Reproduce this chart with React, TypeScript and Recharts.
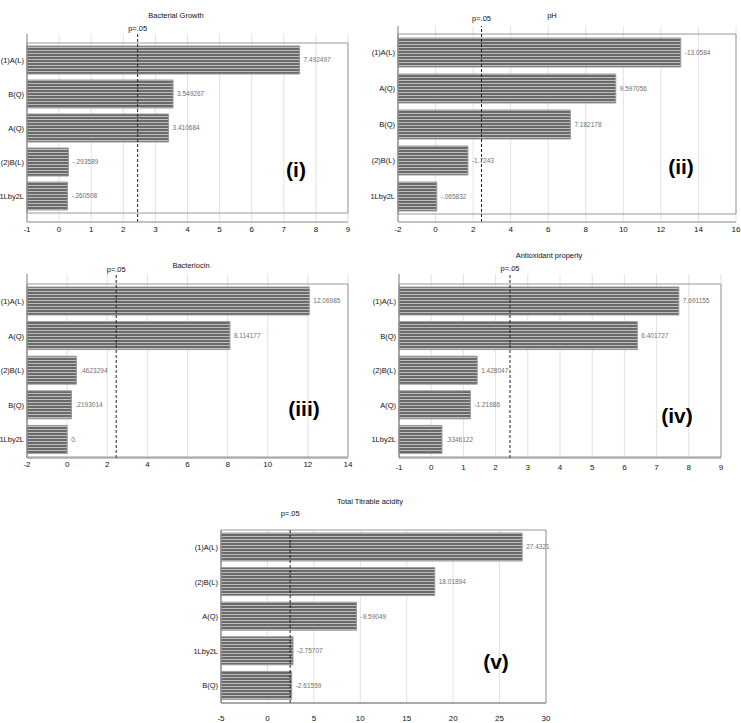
import React from 'react';
import {
  BarChart,
  Bar,
  XAxis,
  YAxis,
  CartesianGrid,
  ReferenceLine,
  ReferenceArea,
  LabelList,
} from 'recharts';

// ---------- data ----------
const growthTerms = ['(1)A(L)', 'B(Q)', 'A(Q)', '(2)B(L)', '1Lby2L'];
const growthEffects = [7.492497, 3.549267, 3.410684, -0.293589, -0.260508];
const growthTicks = [-1, 0, 1, 2, 3, 4, 5, 6, 7, 8, 9];

const phTerms = ['(1)A(L)', 'A(Q)', 'B(Q)', '(2)B(L)', '1Lby2L'];
const phEffects = [-13.0584, 9.597056, 7.182178, -1.7243, -0.065832];
const phTicks = [-2, 0, 2, 4, 6, 8, 10, 12, 14, 16];

const bacteriocinTerms = ['(1)A(L)', 'A(Q)', '(2)B(L)', 'B(Q)', '1Lby2L'];
const bacteriocinEffects = [12.06985, 8.114177, 0.4623294, 0.2193014, 0];
const bacteriocinTicks = [-2, 0, 2, 4, 6, 8, 10, 12, 14];

const antioxidantTerms = ['(1)A(L)', 'B(Q)', '(2)B(L)', 'A(Q)', '1Lby2L'];
const antioxidantEffects = [7.691155, 6.401727, 1.428047, -1.21686, 0.3346122];
const antioxidantTicks = [-1, 0, 1, 2, 3, 4, 5, 6, 7, 8, 9];

const ttaTerms = ['(1)A(L)', '(2)B(L)', 'A(Q)', '1Lby2L', 'B(Q)'];
const ttaEffects = [27.4321, 18.01894, -9.59049, -2.75707, -2.61559];
const ttaTicks = [-5, 0, 5, 10, 15, 20, 25, 30];

const P_CRIT = 2.447;
const P_LABEL = 'p=.05';

const FONT = '"Liberation Sans", Arial, Helvetica, sans-serif';

const fmt = (v: number) =>
  v === 0 ? '0.' : String(v).replace(/^(-?)0\./, '$1.');

type Panel = {
  id: string;
  title: string;
  roman: string;
  terms: string[];
  effects: number[];
  ticks: number[];
  left: number;
  top: number;
  width: number;
  height: number;
  margin: { top: number; right: number; bottom: number; left: number };
  yWidth: number;
  pad: { top: number; bottom: number };
  barSize: number;
  pOffset: number;
  tickGap: number;
  titleX: number;
  titleY: number;
  romanX: number;
  romanY: number;
};

const panels: Panel[] = [
  {
    id: 'g', title: 'Bacterial Growth', roman: '(i)',
    terms: growthTerms, effects: growthEffects, ticks: growthTicks,
    left: 0, top: 0, width: 360, height: 245,
    margin: { top: 34, right: 12, bottom: 5, left: 0 }, yWidth: 27,
    pad: { top: 9, bottom: 9 }, barSize: 28, pOffset: 3, tickGap: 4,
    titleX: 176, titleY: 15, romanX: 296, romanY: 170,
  },
  {
    id: 'p', title: 'pH', roman: '(ii)',
    terms: phTerms, effects: phEffects, ticks: phTicks,
    left: 370, top: 0, width: 371, height: 245,
    margin: { top: 26, right: 5, bottom: 5, left: 0 }, yWidth: 28,
    pad: { top: 8, bottom: 8 }, barSize: 29, pOffset: 5, tickGap: 4,
    titleX: 552, titleY: 15, romanX: 681, romanY: 167,
  },
  {
    id: 'b', title: 'Bacteriocin', roman: '(iii)',
    terms: bacteriocinTerms, effects: bacteriocinEffects, ticks: bacteriocinTicks,
    left: 0, top: 250, width: 360, height: 230,
    margin: { top: 24, right: 12, bottom: 4, left: 0 }, yWidth: 27,
    pad: { top: 10, bottom: 1 }, barSize: 28, pOffset: 2, tickGap: 3,
    titleX: 191, titleY: 265, romanX: 304, romanY: 409,
  },
  {
    id: 'a', title: 'Antioxidant property', roman: '(iv)',
    terms: antioxidantTerms, effects: antioxidantEffects, ticks: antioxidantTicks,
    left: 370, top: 250, width: 365, height: 230,
    margin: { top: 24, right: 14, bottom: 4, left: 0 }, yWidth: 29,
    pad: { top: 10, bottom: 1 }, barSize: 28, pOffset: 3, tickGap: 6,
    titleX: 549, titleY: 255, romanX: 677, romanY: 416,
  },
  {
    id: 't', title: 'Total Titrable acidity', roman: '(v)',
    terms: ttaTerms, effects: ttaEffects, ticks: ttaTicks,
    left: 180, top: 480, width: 380, height: 243,
    margin: { top: 50, right: 14, bottom: 2, left: 0 }, yWidth: 41,
    pad: { top: 0, bottom: 0 }, barSize: 28, pOffset: 14, tickGap: 12,
    titleX: 370, titleY: 501, romanX: 496, romanY: 662,
  },
];

function ParetoPanel({ p }: { p: Panel }) {
  const min = p.ticks[0];
  const max = p.ticks[p.ticks.length - 1];
  const data = p.terms.map((term, i) => ({
    term,
    range: [min, Math.abs(p.effects[i])],
    label: fmt(p.effects[i]),
  }));
  const minor: number[] = [];
  for (let i = 0; i < p.ticks.length - 1; i++) {
    minor.push(p.ticks[i], (p.ticks[i] + p.ticks[i + 1]) / 2);
  }
  minor.push(max);
  const patId = `stripes-${p.id}`;
  return (
    <div style={{ position: 'absolute', left: p.left, top: p.top, width: p.width, height: p.height }}>
      <BarChart
        width={p.width}
        height={p.height}
        data={data}
        layout="vertical"
        margin={p.margin}
        style={{ fontFamily: FONT }}
      >
        <defs>
          <pattern id={patId} patternUnits="userSpaceOnUse" width={4} height={3}>
            <rect x={0} y={0} width={4} height={3} fill="#bdbdbd" />
            <rect x={0} y={0} width={4} height={2} fill="#6a6a6a" />
          </pattern>
        </defs>
        <CartesianGrid horizontal={false} stroke="#e2e2e2" />
        <XAxis
          type="number"
          domain={[min, max]}
          ticks={p.ticks}
          interval={0}
          tickLine={false}
          tickSize={1}
          tickMargin={p.tickGap - 1}
          axisLine={{ stroke: '#888' }}
          tick={{ fontSize: 8, fill: '#111', fontFamily: FONT }}
          height={18}
        />
        <XAxis
          xAxisId="minor"
          type="number"
          orientation="top"
          domain={[min, max]}
          ticks={minor}
          interval={0}
          mirror
          tick={false}
          tickSize={3}
          tickLine={{ stroke: '#999' }}
          axisLine={false}
          height={0}
        />
        <YAxis
          type="category"
          dataKey="term"
          width={p.yWidth}
          tickLine={false}
          tickSize={2}
          tickMargin={1}
          axisLine={{ stroke: '#888' }}
          padding={p.pad}
          tick={{ fontSize: 7.5, fill: '#111', fontFamily: FONT }}
        />
        <ReferenceArea x1={min} x2={max} fill="none" stroke="#999" ifOverflow="visible" />
        <Bar
          dataKey="range"
          barSize={p.barSize}
          fill={`url(#${patId})`}
          stroke="#9a9a9a"
          strokeWidth={1}
          isAnimationActive={false}
        >
          <LabelList
            dataKey="label"
            position="right"
            offset={4}
            style={{ fontSize: 6.5, fill: '#707070', fontFamily: FONT }}
          />
        </Bar>
        <ReferenceLine
          x={P_CRIT}
          stroke="#222"
          strokeDasharray="3 2"
          ifOverflow="visible"
          label={{
            value: P_LABEL,
            position: 'top',
            offset: p.pOffset,
            fontSize: 7.5,
            fill: '#111',
            fontFamily: FONT,
          }}
        />
      </BarChart>
    </div>
  );
}

export default function App() {
  return (
    <div
      style={{
        position: 'absolute',
        left: 0,
        top: 0,
        width: 741,
        height: 723,
        background: '#fff',
        fontFamily: FONT,
        overflow: 'hidden',
      }}
    >
      {panels.map((p) => (
        <ParetoPanel key={p.id} p={p} />
      ))}
      {panels.map((p) => (
        <div
          key={`t-${p.id}`}
          style={{
            position: 'absolute',
            left: p.titleX,
            top: p.titleY,
            transform: 'translate(-50%, -50%)',
            fontSize: 7.5,
            color: '#111',
            whiteSpace: 'nowrap',
          }}
        >
          {p.title}
        </div>
      ))}
      {panels.map((p) => (
        <div
          key={`r-${p.id}`}
          style={{
            position: 'absolute',
            left: p.romanX,
            top: p.romanY,
            transform: 'translate(-50%, -50%)',
            fontSize: 21,
            fontWeight: 'bold',
            color: '#000',
            whiteSpace: 'nowrap',
          }}
        >
          {p.roman}
        </div>
      ))}
    </div>
  );
}
